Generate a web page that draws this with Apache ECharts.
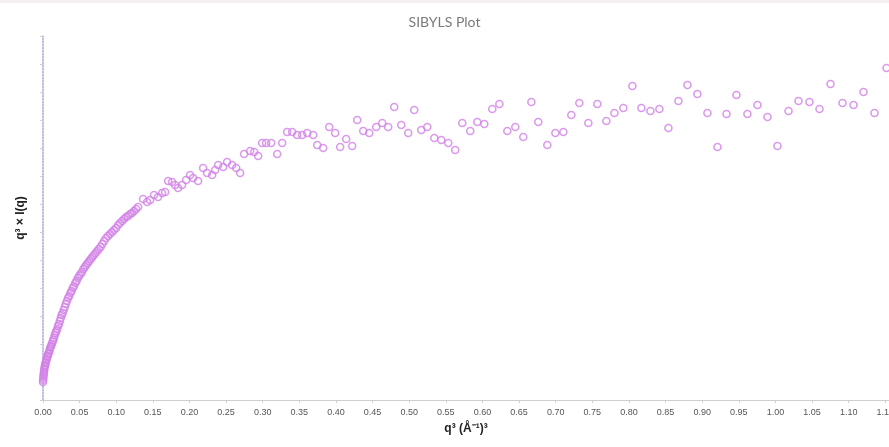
<!DOCTYPE html>
<html>
<head>
<meta charset="utf-8">
<script src="https://cdn.jsdelivr.net/npm/echarts@6/dist/echarts.min.js"></script>
<style>html,body{margin:0;padding:0;background:#fff}#c{width:889px;height:447px}</style>
</head>
<body>
<div id="c"></div>
<script>
var titleText = 'SIBYLS Plot';
var xName = 'q\u00B3 (\u00C5\u207B\u00B9)\u00B3';
var yName = 'q\u00B3 \u00D7 I(q)';
var xTicks = { min: 0, max: 1.155, interval: 0.05 };

var qCubed = [
  0.0000,0.0004,0.0010,0.0016,0.0025,0.0034,0.0045,0.0057,0.0071,0.0086,
  0.0102,0.0120,0.0139,0.0160,0.0182,0.0205,0.0230,0.0255,0.0283,0.0311,
  0.0342,0.0373,0.0406,0.0440,0.0475,0.0512,0.0551,0.0590,0.0631,0.0673,
  0.0717,0.0762,0.0809,
  0.0861,0.0915,0.0970,0.1025,0.1079,0.1134,0.1189,0.1243,0.1298,0.1366,
  0.1421,0.1462,0.1516,0.1571,0.1626,0.1667,0.1708,0.1762,0.1803,0.1844,
  0.1899,0.1954,0.2008,0.2049,0.2117,0.2186,0.2240,0.2309,0.2350,0.2391,
  0.2459,0.2514,0.2582,0.2637,0.2691,0.2746,0.2828,0.2883,0.2937,0.2992,
  0.3046,0.3115,0.3197,0.3265,0.3333,0.3402,0.3470,0.3538,0.3607,0.3689,
  0.3743,0.3825,0.3907,0.3989,0.4057,0.4139,0.4221,0.4290,0.4372,0.4454,
  0.4549,0.4631,0.4713,0.4795,0.4891,0.4986,0.5068,0.5164,0.5246,0.5342,
  0.5437,0.5533,0.5628,0.5724,0.5833,0.5929,0.6025,0.6134,0.6230,0.6339,
  0.6448,0.6557,0.6667,0.6762,0.6885,0.6995,0.7104,0.7213,0.7322,0.7445,
  0.7568,0.7691,0.7801,0.7923,0.8046,0.8169,0.8292,0.8415,0.8538,0.8675,
  0.8798,0.8934,0.9071,0.9208,0.9331,0.9467,0.9617,0.9754,0.9891,1.0027,
  1.0178,1.0314,1.0464,1.0601,1.0751,1.0915,1.1066,1.1202,1.1352,1.1516,
  // additional low-q points in the dense band
  0.0002,0.0007,0.0013,0.0020,0.0030,0.0040,0.0051,0.0064,0.0078,0.0094,
  0.0111,0.0130,0.0150,0.0171,0.0194,0.0218,0.0243,0.0269,0.0297,0.0327,
  0.0358,0.0390,0.0423,0.0458,0.0494,0.0532,0.0571,0.0611,0.0652,0.0695,
  0.0740,0.0786,0.0835,0.0888,0.0943,0.0998,0.1052,0.1107,0.1162,0.1216,
  0.1271
];
var intensity = [
  18,22,26,30,34,37,40,43,46,49,
  53,56,60,65,69,74,79,85,90,96,
  102,107,112,117,122,126,131,135,139,143,
  147,151,156,
  162,166,170,175,179,183,186,189,193,201,
  198,200,205,203,207,208,219,218,215,212,
  215,220,225,222,219,232,227,225,230,235,
  233,238,235,232,227,246,249,248,244,257,
  257,257,246,257,268,268,265,265,267,265,
  255,252,273,267,253,261,254,280,269,267,
  273,277,273,293,275,267,290,270,273,262,
  260,257,250,277,269,278,276,291,296,269,
  273,263,298,278,255,267,268,285,297,277,
  296,279,287,292,314,292,289,291,272,299,
  315,306,287,253,286,305,286,295,283,254,
  289,299,298,291,316,297,295,308,287,332,
  20,24,28,32,35,38,41,44,47,51,
  54,58,62,67,71,76,82,87,93,99,
  104,109,114,119,124,128,133,137,141,145,
  149,153,159,164,168,172,177,181,184,187,
  191
];

var points = qCubed.map(function (x, i) { return [x, intensity[i]]; });

var chart = echarts.init(document.getElementById('c'), null, { renderer: 'canvas' });
chart.setOption({
  backgroundColor: '#ffffff',
  animation: false,
  title: {
    text: titleText, left: 'center', top: 10,
    textStyle: { fontFamily: 'Lato', fontSize: 14, fontWeight: 'normal', color: '#7a7a7a' }
  },
  graphic: [{
    type: 'rect', shape: { x: 0, y: 0, width: 889, height: 3 },
    style: { fill: '#f6eef1' }, silent: true
  }],
  grid: { left: 43, right: 0, top: 36, bottom: 47, outerBoundsMode: 'none', containLabel: false },
  xAxis: {
    type: 'value', min: xTicks.min, max: xTicks.max, interval: xTicks.interval,
    name: xName, nameLocation: 'middle', nameGap: 23,
    nameTextStyle: { fontFamily: 'Liberation Sans', fontWeight: 'bold', fontSize: 12, color: '#222' },
    axisLine: { show: true, lineStyle: { color: '#cfcfcf', width: 1 } },
    axisTick: { show: true, length: 3, lineStyle: { color: '#cfcfcf' } },
    axisLabel: {
      showMaxLabel: false, margin: 8, hideOverlap: false,
      fontFamily: 'Liberation Sans', fontSize: 9, color: '#555',
      formatter: function (v) { return v.toFixed(2); }
    },
    splitLine: { show: false }
  },
  yAxis: {
    type: 'value', min: 0, max: 364, interval: 28,
    name: yName, nameLocation: 'middle', nameGap: 16, nameRotate: 90,
    nameTextStyle: { fontFamily: 'Liberation Sans', fontWeight: 'bold', fontSize: 12, color: '#222' },
    axisLine: { show: true, lineStyle: { color: '#a9a9e0', width: 1.5, type: 'dotted' } },
    axisTick: { show: true, length: 3, lineStyle: { color: '#d0d0d0' } },
    axisLabel: { show: false },
    splitLine: { show: false }
  },
  series: [{
    type: 'scatter',
    data: points,
    symbol: 'circle',
    symbolSize: 7,
    clip: false,
    itemStyle: { color: 'rgba(255,255,255,0)', borderColor: '#d27fe6', borderWidth: 1.6 }
  }]
});
</script>
</body>
</html>
